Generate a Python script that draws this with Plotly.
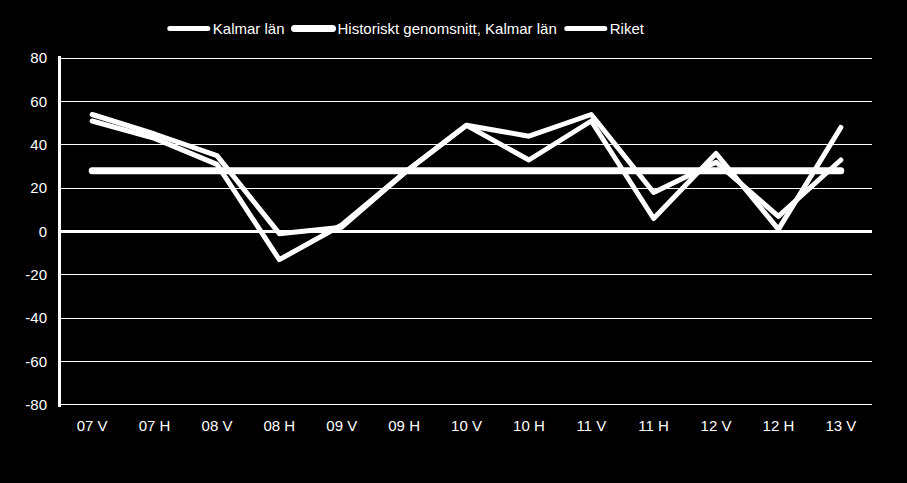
import plotly.graph_objects as go

categories = ["07 V", "07 H", "08 V", "08 H", "09 V", "09 H", "10 V", "10 H", "11 V", "11 H", "12 V", "12 H", "13 V"]
kalmar = [51, 43, 31, -13, 3, 27, 49, 33, 51, 6, 36, 1, 48]
historiskt = [28, 28, 28, 28, 28, 28, 28, 28, 28, 28, 28, 28, 28]
riket = [54, 45, 35, -1, 2, 27, 49, 44, 54, 18, 32, 7, 33]
y_ticks = [-80, -60, -40, -20, 0, 20, 40, 60, 80]
y_tick_labels = ["-80", "-60", "-40", "-20", "0", "20", "40", "60", "80"]

font_family = "Liberation Sans, Arial, sans-serif"

fig = go.Figure()
fig.add_trace(go.Scatter(x=categories, y=historiskt, name="Historiskt genomsnitt, Kalmar län",
                         mode="lines", line=dict(color="white", width=7), legendrank=2))
fig.add_trace(go.Scatter(x=categories, y=riket, name="Riket",
                         mode="lines", line=dict(color="white", width=5), legendrank=3))
fig.add_trace(go.Scatter(x=categories, y=kalmar, name="Kalmar län",
                         mode="lines", line=dict(color="white", width=5), legendrank=1))

fig.update_layout(
    width=907, height=483,
    paper_bgcolor="black", plot_bgcolor="black",
    margin=dict(l=61, r=35, t=56, b=76),
    font=dict(family=font_family, size=15, color="white"),
    showlegend=True,
    legend=dict(orientation="h", x=0.427, xanchor="center", y=1.125, yanchor="top",
                font=dict(size=15, color="white"), bgcolor="rgba(0,0,0,0)",
                traceorder="normal", itemwidth=38),
    xaxis=dict(type="category", range=[-0.5, 12.5], showgrid=False, showline=False,
               ticks="", tickfont=dict(size=15, color="white"), zeroline=False,
               ticklabelstandoff=8),
    yaxis=dict(range=[-81, 81], tickvals=y_ticks, ticktext=y_tick_labels,
               showgrid=True, gridcolor="white", gridwidth=1,
               zeroline=True, zerolinecolor="white", zerolinewidth=3,
               showline=True, linecolor="white", linewidth=3,
               ticks="", tickfont=dict(size=15, color="white"),
               ticklabelstandoff=8),
)

fig.write_html("out.html", config={"displayModeBar": False})

with open("out.html", "r", encoding="utf-8") as f:
    html = f.read()
html = html.replace(
    "<head>",
    "<head><style>html,body{margin:0;padding:0;background:black;overflow:hidden}"
    ".js-line{stroke-linecap:round !important;stroke-linejoin:round !important}</style>",
    1,
)
with open("out.html", "w", encoding="utf-8") as f:
    f.write(html)
